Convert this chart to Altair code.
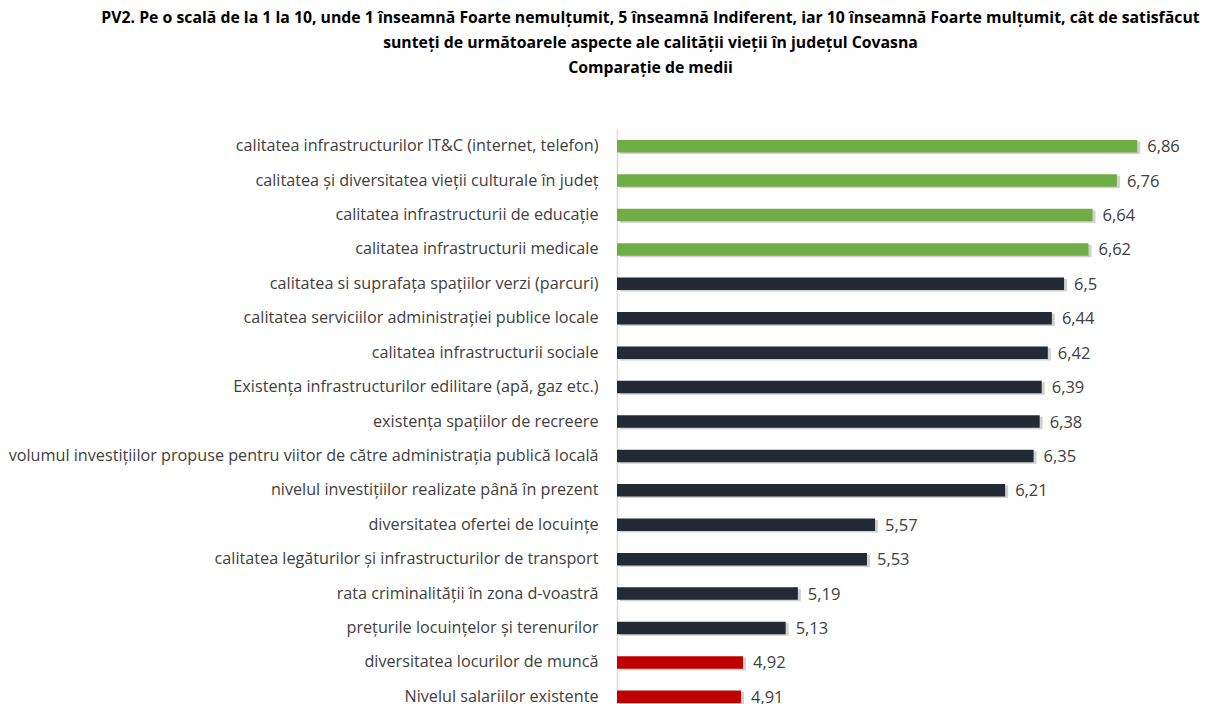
import altair as alt
import pandas as pd

categories = [
    "calitatea infrastructurilor IT&C (internet, telefon)",
    "calitatea și diversitatea vieții culturale în județ",
    "calitatea infrastructurii de educație",
    "calitatea infrastructurii medicale",
    "calitatea si suprafața spațiilor verzi (parcuri)",
    "calitatea serviciilor administrației publice locale",
    "calitatea infrastructurii sociale",
    "Existența infrastructurilor edilitare (apă, gaz etc.)",
    "existența spațiilor de recreere",
    "volumul investițiilor propuse pentru viitor de către administrația publică locală",
    "nivelul investițiilor realizate până în prezent",
    "diversitatea ofertei de locuințe",
    "calitatea legăturilor și infrastructurilor de transport",
    "rata criminalității în zona d-voastră",
    "prețurile locuințelor și terenurilor",
    "diversitatea locurilor de muncă",
    "Nivelul salariilor existente",
]
values = [6.86, 6.76, 6.64, 6.62, 6.5, 6.44, 6.42, 6.39, 6.38, 6.35, 6.21,
          5.57, 5.53, 5.19, 5.13, 4.92, 4.91]
groups = ["top"] * 4 + ["mid"] * 11 + ["low"] * 2
value_labels = ["6,86", "6,76", "6,64", "6,62", "6,5", "6,44", "6,42", "6,39",
                "6,38", "6,35", "6,21", "5,57", "5,53", "5,19", "5,13", "4,92", "4,91"]
axis_min = 4.3
axis_max = 7.1

df = pd.DataFrame({"cat": categories, "v": values, "g": groups, "lbl": value_labels})

FONT = "Open Sans"

y = alt.Y("cat:N", sort=categories, title=None,
          axis=alt.Axis(ticks=False, labelPadding=19, labelFontSize=16.2,
                        labelFont=FONT, labelColor="#404040", labelLimit=800,
                        domainColor="#d9d9d9", domainWidth=1.5))
x = alt.X("v:Q", scale=alt.Scale(domain=[axis_min, axis_max], zero=False, nice=False),
          axis=None)
x2 = alt.X2(datum=axis_min)

base = alt.Chart(df)

shadow = base.mark_bar(size=12.5, color="#9a9a9a", opacity=0.45, xOffset=3,
                       yOffset=1.5, x2Offset=3).encode(y=y, x=x, x2=x2)
bars = base.mark_bar(size=12.5).encode(
    y=y, x=x, x2=x2,
    color=alt.Color("g:N", scale=alt.Scale(domain=["top", "mid", "low"],
                                           range=["#70AD47", "#222A35", "#C00000"]),
                    legend=None))
text = base.mark_text(align="left", dx=10, fontSize=16.5, font=FONT,
                      color="#404040", baseline="middle", dy=1).encode(
    y=y, x=x, text="lbl:N")

chart = alt.layer(shadow, bars, text).properties(
    width=569, height=585,
    padding={"left": 0, "top": 2, "right": 0, "bottom": 5},
    title=alt.TitleParams(
        text=["PV2. Pe o scală de la 1 la 10, unde 1 înseamnă Foarte nemulțumit, 5 înseamnă Indiferent, iar 10 înseamnă Foarte mulțumit, cât de satisfăcut",
              "sunteți de următoarele aspecte ale calității vieții în județul Covasna",
              "Comparație de medii"],
        anchor="middle", frame="group", dx=-251, fontSize=15.8, font=FONT,
        fontWeight="bold", color="#000000", lineHeight=25, offset=52),
).configure_view(stroke=None)

chart.save("out.html", embed_options={"renderer": "svg", "actions": False})
